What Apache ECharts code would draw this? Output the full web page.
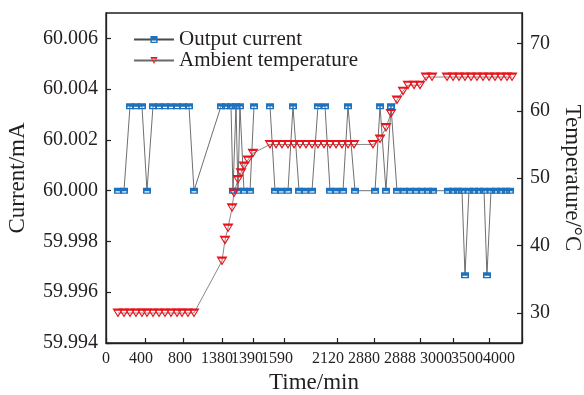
<!DOCTYPE html>
<html>
<head>
<meta charset="utf-8">
<script src="https://cdn.jsdelivr.net/npm/echarts@6/dist/echarts.min.js"></script>
<style>
html,body{margin:0;padding:0;background:#fff;}
#chart{width:584px;height:395px;}
</style>
</head>
<body>
<div id="chart"></div>
<script>
// x-axis ticks (axis units), label positions and label texts
const xTickValues = [0, 375, 740, 1115, 1413, 1712, 2221, 2577, 3019, 3337, 3683, 4000];
const xLabelValues = [0, 337, 712, 1067, 1356, 1644, 2135, 2481, 2827, 3173, 3471, 3779];
const xTickLabels = ['0','400','800','1380','1390','1590','2120','2880','2888','3000','3500','4000'];

const currentTicks = [59.994, 59.996, 59.998, 60.000, 60.002, 60.004, 60.006];
const tempTicks = [30, 40, 50, 60, 70];

// Output current
const currentX = [115,173,231,288,346,394,452,510,567,625,683,740,798,846,
  1106,1154,1202,1221,1250,1269,1288,1327,1385,1423,1500,
  1577,1625,1683,1750,1798,1856,1913,1981,2038,2106,2154,2212,2279,2327,2394,
  2587,2635,2692,2740,2798,2865,2923,2981,3038,3096,3144,
  3288,3337,3385,3423,3452,3490,3538,3587,3635,3663,3702,3750,3798,3846,3885];
const currentY = [60.000,60.000,60.00333,60.00333,60.00333,60.000,60.00333,60.00333,60.00333,60.00333,60.00333,60.00333,60.00333,60.000,
  60.00333,60.00333,60.00333,60.000,60.00333,60.000,60.00333,60.000,60.000,60.00333,null,
  60.00333,60.000,60.000,60.000,60.00333,60.000,60.000,60.000,60.00333,60.00333,60.000,60.000,60.000,60.00333,60.000,
  60.000,60.00333,60.000,60.00333,60.000,60.000,60.000,60.000,60.000,60.000,60.000,
  60.000,60.000,60.000,60.000,59.99667,60.000,60.000,60.000,60.000,59.99667,60.000,60.000,60.000,60.000,60.000];

// Ambient temperature
const tempX = [115,173,231,288,346,394,452,510,567,625,683,731,788,846,
  1115,1144,1173,1212,1231,1269,1298,1327,1365,1413,
  1577,1635,1692,1750,1808,1865,1923,1981,2038,2096,2154,2212,2269,2327,2385,
  2567,2635,2692,2740,2798,2856,2904,2962,3019,3077,3135,
  3279,3337,3394,3452,3510,3567,3625,3683,3740,3798,3856,3904];
const tempY = [30,30,30,30,30,30,30,30,30,30,30,30,30,30,
  37.7,40.8,42.6,45.6,47.8,49.8,50.8,51.8,52.7,53.7,
  55,55,55,55,55,55,55,55,55,55,55,55,55,55,55,
  55,55.8,57.5,59.6,61.6,62.9,63.8,63.8,63.8,65,65,
  65,65,65,65,65,65,65,65,65,65,65,65];

const ink = '#231f20';
const serif = 'Liberation Serif';
const squareSym = 'path://M0,0H10V8H0Z M2,4.6V6.4H8V4.6Z';
const triSym = 'path://M0,0H12L6,10Z M2.7,2.4L6,7.4L9.3,2.4Z';

const chart = echarts.init(document.getElementById('chart'));
chart.setOption({
  animation: false,
  backgroundColor: '#fff',
  grid: {left: 106, right: 62, top: 13, bottom: 52, containLabel: false, outerBoundsMode: 'none',
    show: true, borderColor: ink, borderWidth: 1.3, backgroundColor: 'transparent'},
  legend: {
    orient: 'vertical', left: 128, top: 24, itemWidth: 40, itemHeight: 9, itemGap: 0,
    textStyle: {fontFamily: serif, fontSize: 21, lineHeight: 21, color: ink},
    data: ['Output current', 'Ambient temperature']
  },
  xAxis: {
    type: 'value', min: 0, max: 4000,
    name: 'Time/min', nameLocation: 'middle', nameGap: 27,
    nameTextStyle: {fontFamily: serif, fontSize: 23, color: ink},
    axisLine: {lineStyle: {color: ink, width: 1.3}},
    axisTick: {inside: true, length: 5, lineStyle: {color: ink, width: 1.2}, customValues: xTickValues},
    axisLabel: {
      fontFamily: serif, fontSize: 16, color: ink, margin: 8, showMinLabel: true, showMaxLabel: true,
      hideOverlap: false,
      customValues: xLabelValues,
      formatter: function (v) { const i = xLabelValues.indexOf(v); return i >= 0 ? xTickLabels[i] : ''; }
    },
    splitLine: {show: false}
  },
  yAxis: [{
    type: 'value', min: 59.994, max: 60.007, position: 'left',
    name: 'Current/mA', nameLocation: 'middle', nameGap: 77, nameRotate: 90,
    nameTextStyle: {fontFamily: serif, fontSize: 23, color: ink},
    axisLine: {show: true, lineStyle: {color: ink, width: 1.3}},
    axisTick: {show: true, inside: true, length: 5, lineStyle: {color: ink, width: 1.2}, customValues: currentTicks},
    axisLabel: {fontFamily: serif, fontSize: 20, color: ink, margin: 8, customValues: currentTicks,
      hideOverlap: false, formatter: function (v) { return v.toFixed(3); }},
    splitLine: {show: false}
  }, {
    type: 'value', min: 25.55, max: 74.5, position: 'right',
    name: 'Temperature/\u00b0C', nameLocation: 'middle', nameGap: 36, nameRotate: -90,
    nameTextStyle: {fontFamily: serif, fontSize: 23, color: ink},
    axisLine: {show: true, lineStyle: {color: ink, width: 1.3}},
    axisTick: {show: true, inside: true, length: 5, lineStyle: {color: ink, width: 1.2}, customValues: tempTicks},
    axisLabel: {fontFamily: serif, fontSize: 20, color: ink, margin: 8, customValues: tempTicks, hideOverlap: false},
    splitLine: {show: false}
  }],
  series: [{
    name: 'Output current', type: 'line', yAxisIndex: 0,
    data: currentX.map((x, i) => [x, currentY[i]]),
    symbol: squareSym, symbolSize: [8, 6], showAllSymbol: true, connectNulls: false,
    itemStyle: {color: '#1a72c0'},
    lineStyle: {color: '#4a4a4a', width: 0.8}
  }, {
    name: 'Ambient temperature', type: 'line', yAxisIndex: 1,
    data: tempX.map((x, i) => [x, tempY[i]]),
    symbol: triSym, symbolSize: [11, 9], showAllSymbol: true,
    itemStyle: {color: '#e8131b'},
    lineStyle: {color: '#6a6a6a', width: 0.8}
  }]
});
</script>
</body>
</html>
